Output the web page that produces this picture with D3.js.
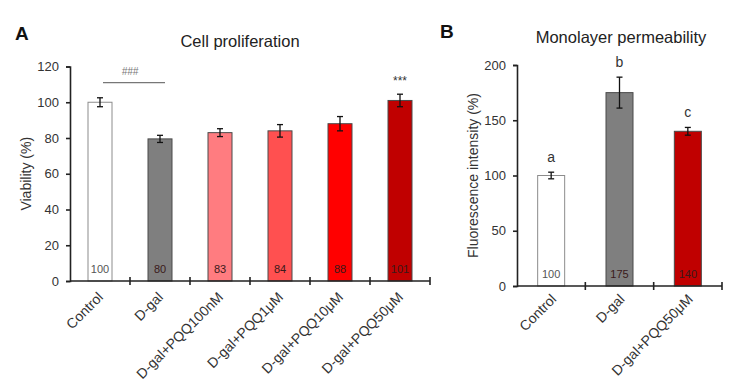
<!DOCTYPE html>
<html><head><meta charset="utf-8">
<script src="https://cdn.jsdelivr.net/npm/d3@7"></script>
<style>body{margin:0;background:#fff;} svg{display:block;font-family:"Liberation Sans",Arial,sans-serif;}</style>
</head><body>
<svg id="c" width="730" height="383"></svg>
<script>
// Panel A data
const catsA = ["Control","D-gal","D-gal+PQQ100nM","D-gal+PQQ1μM","D-gal+PQQ10μM","D-gal+PQQ50μM"];
const valsA = [100, 79.5, 83, 84, 88, 101];
const errA = [2.5, 2, 2.2, 3.5, 4, 3.5];
const labelsA = ["100","80","83","84","88","101"];
const colorsA = ["#ffffff","#7f7f7f","#ff7c80","#ff5050","#ff0000","#c00000"];
const ticksA = [0,20,40,60,80,100,120];
// Panel B data
const catsB = ["Control","D-gal","D-gal+PQQ50μM"];
const valsB = [100, 175, 140];
const errB = [3, 14, 3.5];
const labelsB = ["100","175","140"];
const lettersB = ["a","b","c"];
const colorsB = ["#ffffff","#7f7f7f","#c00000"];
const ticksB = [0,50,100,150,200];

const svg = d3.select("#c");

function panel(o){
  const g = svg.append("g");
  const x = d3.scaleBand().domain(o.cats).range([o.x0, o.x1]);
  const y = d3.scaleLinear().domain(o.domain).range([o.y0, o.y1]);
  const bw = o.bw;
  g.selectAll("rect.bar").data(o.vals).enter().append("rect")
    .attr("x",(d,i)=>x(o.cats[i])+x.bandwidth()/2-bw/2)
    .attr("y",d=>y(d)).attr("width",bw).attr("height",d=>y(0)-y(d))
    .attr("fill",(d,i)=>o.colors[i])
    .attr("stroke",(d,i)=>i===0?"#8c8c8c":"#4a4a4a").attr("stroke-width",1);
  g.selectAll("text.v").data(o.labels).enter().append("text")
    .attr("x",(d,i)=>x(o.cats[i])+x.bandwidth()/2).attr("y",o.y0-o.vlab)
    .attr("text-anchor","middle").attr("font-size",11).attr("fill",(d,i)=>i===0?"#555":"#3a1a1a")
    .text(d=>d);
  o.vals.forEach((v,i)=>{
    const cx = x(o.cats[i])+x.bandwidth()/2;
    const t = y(v+o.err[i]), b = y(v-o.err[i]);
    g.append("line").attr("x1",cx).attr("x2",cx).attr("y1",t).attr("y2",b).attr("stroke","#111").attr("stroke-width",1.3);
    [t,b].forEach(yy=>g.append("line").attr("x1",cx-3).attr("x2",cx+3).attr("y1",yy).attr("y2",yy).attr("stroke","#111").attr("stroke-width",1.3));
  });
  const ya = g.append("g").attr("transform",`translate(${o.x0},0)`)
    .call(d3.axisLeft(y).tickValues(o.ticks).tickSize(4).tickPadding(7));
  ya.select(".domain").attr("stroke","#222").attr("stroke-width",1.6);
  ya.selectAll(".tick line").attr("stroke","#222").attr("stroke-width",1.6);
  ya.selectAll(".tick text").attr("font-size",13).attr("fill","#333").attr("font-family","Liberation Sans, Arial, sans-serif");
  g.append("line").attr("x1",o.x0).attr("x2",o.x1).attr("y1",o.y0).attr("y2",o.y0).attr("stroke","#222").attr("stroke-width",1.6);
  o.cats.forEach(c=>{const e=x(c)+x.bandwidth();
    g.append("line").attr("x1",e).attr("x2",e).attr("y1",o.y0-4).attr("y2",o.y0+4).attr("stroke","#222").attr("stroke-width",1.6);});
  g.selectAll("text.xl").data(o.cats).enter().append("text")
    .attr("transform",d=>`translate(${x(d)+x.bandwidth()/2+o.xlx},${o.y0+o.xly}) rotate(-45)`)
    .attr("text-anchor","end").attr("font-size",14).attr("fill","#333").text(d=>d);
  g.append("text").attr("transform",`translate(${o.ylx},${(o.y0+o.y1)/2}) rotate(-90)`)
    .attr("text-anchor","middle").attr("font-size",14).attr("fill","#333").text(o.ylabel);
  g.append("text").attr("x",o.tx).attr("y",o.ty).attr("text-anchor","middle").attr("font-size",16.5).attr("fill","#222").text(o.title);
  g.append("text").attr("x",o.lx).attr("y",o.ly).attr("font-size",19).attr("font-weight","bold").attr("fill","#111").text(o.letter);
  return {g,x,y};
}

const A = panel({cats:catsA, vals:valsA, err:errA, labels:labelsA, colors:colorsA, ticks:ticksA,
  x0:70, x1:430, y0:281, y1:66.5, domain:[0,120], bw:24, vlab:8, xlx:4, xly:17,
  ylabel:"Viability (%)", ylx:31, title:"Cell proliferation", tx:240, ty:47, letter:"A", lx:15, ly:40});
A.g.append("line").attr("x1",103).attr("x2",165).attr("y1",A.y(111)).attr("y2",A.y(111)).attr("stroke","#777").attr("stroke-width",1.2);
A.g.append("text").attr("x",130).attr("y",A.y(115)).attr("text-anchor","middle").attr("font-size",10).attr("font-style","italic").attr("fill","#777").text("###");
A.g.append("text").attr("x",A.x(catsA[5])+A.x.bandwidth()/2).attr("y",A.y(valsA[5]+errA[5])-9).attr("text-anchor","middle").attr("font-size",12).attr("fill","#333").text("***");

const B = panel({cats:catsB, vals:valsB, err:errB, labels:labelsB, colors:colorsB, ticks:ticksB,
  x0:517, x1:722, y0:286, y1:65, domain:[0,200], bw:27, vlab:8, xlx:6, xly:14,
  ylabel:"Fluorescence intensity (%)", ylx:478, title:"Monolayer permeability", tx:621, ty:43, letter:"B", lx:440, ly:38});
B.g.selectAll("text.let").data(lettersB).enter().append("text")
  .attr("x",(d,i)=>B.x(catsB[i])+B.x.bandwidth()/2).attr("y",(d,i)=>B.y(valsB[i]+errB[i])-10)
  .attr("text-anchor","middle").attr("font-size",14).attr("fill","#333").text(d=>d);
</script>
</body></html>
